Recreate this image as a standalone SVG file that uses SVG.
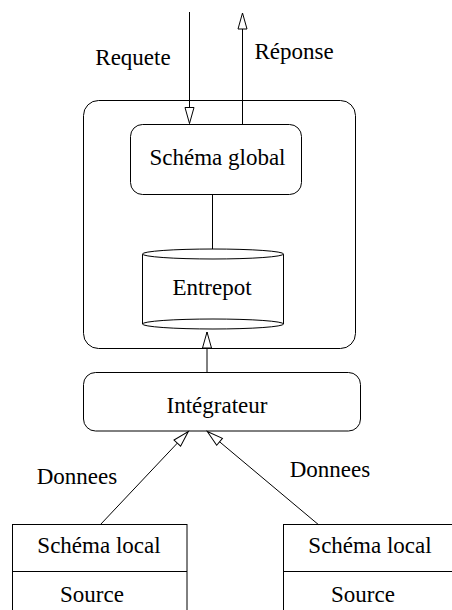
<svg xmlns="http://www.w3.org/2000/svg" width="452" height="610" viewBox="0 0 452 610">
<style>
  .box { fill: #fff; stroke: #000; stroke-width: 1; }
  .line { fill: none; stroke: #000; stroke-width: 1; }
  text { font-family: "Liberation Serif", "Times New Roman", serif; font-size: 23px; fill: #000; text-anchor: middle; }
</style>
<defs>
  <marker id="open" markerUnits="userSpaceOnUse" markerWidth="18" markerHeight="11" refX="16" refY="4.5" orient="auto" overflow="visible">
    <path d="M0,0 L16,4.5 L0,9 Z" fill="#fff" stroke="#000" stroke-width="1"/>
  </marker>
</defs>
<rect width="452" height="610" fill="#fff"/>

<g id="entrepot-system">
  <rect class="box" x="83.5" y="100.5" width="272" height="248" rx="15" ry="15"/>
</g>

<g id="schema-global">
  <rect class="box" x="130.5" y="124.5" width="171" height="70" rx="12" ry="12"/>
  <text x="217.5" y="165">Schéma global</text>
</g>

<g id="entrepot">
  <path class="box" d="M142.5,254 L142.5,324 A70.5,5 0 0 0 283.5,324 L283.5,254"/>
  <ellipse class="box" cx="213" cy="254" rx="70.5" ry="5"/>
  <path class="line" d="M142.5,324 A70.5,5 0 0 1 283.5,324"/>
  <text x="212" y="295">Entrepot</text>
</g>

<g id="integrateur">
  <rect class="box" x="83.5" y="372.5" width="277" height="58.5" rx="12" ry="12"/>
  <text x="217" y="413">Intégrateur</text>
</g>

<g id="source-1">
  <rect class="box" x="12.5" y="524.5" width="174.5" height="95"/>
  <line class="line" x1="12.5" y1="571.5" x2="187" y2="571.5"/>
  <text x="99" y="553">Schéma local</text>
  <text x="92" y="602">Source</text>
</g>

<g id="source-2">
  <rect class="box" x="283.5" y="524.5" width="180" height="95"/>
  <line class="line" x1="283.5" y1="571.5" x2="463.5" y2="571.5"/>
  <text x="370" y="553">Schéma local</text>
  <text x="363" y="602">Source</text>
</g>

<g id="connectors">
  <line class="line" x1="189.5" y1="12" x2="189.5" y2="123.5" marker-end="url(#open)"/>
  <line class="line" x1="242.5" y1="124.5" x2="242.5" y2="13" marker-end="url(#open)"/>
  <line class="line" x1="212.5" y1="194.5" x2="212.5" y2="249"/>
  <line class="line" x1="207" y1="372.5" x2="207" y2="332" marker-end="url(#open)"/>
  <line class="line" x1="100.5" y1="524.5" x2="188.3" y2="431.5" marker-end="url(#open)"/>
  <line class="line" x1="318.3" y1="524.5" x2="207.3" y2="431.5" marker-end="url(#open)"/>
</g>

<g id="labels">
  <text x="133" y="65">Requete</text>
  <text x="294" y="59">Réponse</text>
  <text x="77" y="484">Donnees</text>
  <text x="330" y="477">Donnees</text>
</g>
</svg>
